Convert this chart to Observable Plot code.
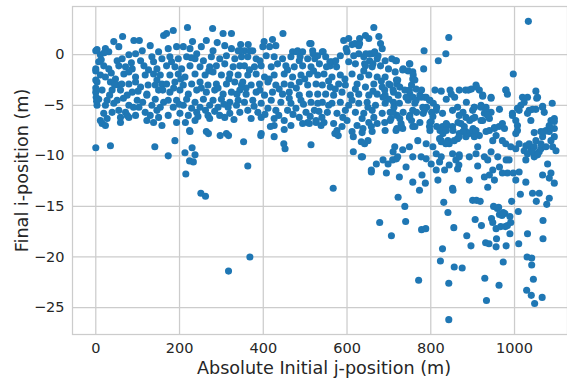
<!DOCTYPE html>
<html>
<head>
<meta charset="utf-8">
<script src="https://cdn.jsdelivr.net/npm/d3@7"></script>
<script src="https://cdn.jsdelivr.net/npm/@observablehq/plot@0.6"></script>
<style>
  html, body { margin: 0; padding: 0; background: #ffffff; overflow: hidden; }
  #chart { width: 567px; height: 380px; }
</style>
</head>
<body>
<div id="chart"></div>
<script>
// [absolute initial j-position (m), final i-position (m)] pairs
const band0to170 = [
  [64,1.8],[91,1.4],[104,1.4],[43,1.3],[55,0.8],[130,0.9],[111,0.4],[3,0.5],[23,0.6],[31,0.3],[11,0.0],[79,0.0],[95,0.1],[63,-0.4],[51,-0.6],[107,-0.6],[134,-0.2],[150,0.3],[162,1.9],
  [7,-0.7],[19,-1.1],[0,-1.4],[31,-1.4],[55,-1.1],[71,-1.2],[87,-1.4],[115,-1.1],[138,-0.7],[146,-1.4],[158,-0.4],
  [11,-2.0],[23,-2.2],[47,-2.4],[67,-1.9],[79,-1.7],[95,-2.2],[118,-2.0],[138,-1.9],[154,-2.0],
  [3,-2.7],[35,-2.7],[55,-3.0],[79,-2.9],[95,-2.7],[107,-3.2],[142,-3.0],[158,-2.9],
  [0,-3.7],[15,-3.5],[39,-3.5],[59,-3.5],[87,-3.7],[122,-3.9],[150,-3.5],
  [7,-4.4],[27,-4.5],[51,-4.5],[75,-4.0],[99,-4.5],[122,-4.0],[142,-4.4],[162,-4.7],
  [3,-5.0],[23,-5.0],[43,-4.8],[79,-5.0],[103,-5.2],[134,-5.0],[154,-5.2],
  [19,-5.8],[39,-5.7],[55,-5.5],[71,-5.7],[95,-6.0],[118,-5.7],[130,-6.0],[146,-5.5],
  [15,-6.8],[27,-6.3],[59,-6.7],[79,-6.2],[122,-6.5],[138,-6.7],[158,-7.0],
  [0,-9.2],[35,-9.0],[141,-9.1],[173,-10.0],[189,-8.5],[11,-6.5],[23,-7.0],[59,-6.2],[75,-6.0],
  [0,0.4],[0,-1.6],[0,-3.3],[1,-4.2],[2,-4.6],[0,-2.5],
  [13,-0.5],[37,-1.8],[62,-2.9],[85,-0.8],[101,-3.6],[126,-1.5],[146,-2.5],[33,-4.0],[66,-4.3],[112,-4.7],[150,-6.2],[90,-5.2],[45,-3.0],[125,-3.0],[20,0.2],[160,-3.5]
];
const band170to350 = [
  [185,2.4],[219,2.7],[279,2.6],[304,2.1],[324,2.1],[264,1.4],[169,2.1],
  [173,0.6],[193,0.8],[209,0.8],[225,0.6],[241,0.1],[280,0.4],[308,0.9],[324,0.6],[340,0.4],
  [177,-0.2],[197,-0.4],[217,-0.2],[237,-0.4],[257,-0.6],[276,-0.2],[296,-0.4],[312,-0.1],[332,-0.4],[348,-0.2],
  [169,-1.1],[189,-1.2],[205,-1.4],[225,-1.1],[249,-1.2],[272,-1.2],[288,-1.1],[308,-0.9],[328,-1.2],[344,-1.1],
  [177,-2.0],[197,-1.9],[213,-2.2],[237,-1.9],[261,-2.0],[280,-1.7],[300,-2.0],[320,-1.9],[340,-2.0],
  [169,-2.9],[189,-2.7],[209,-3.0],[229,-2.9],[249,-2.7],[268,-3.0],[288,-2.9],[312,-2.9],[332,-2.7],[348,-3.0],
  [177,-3.7],[201,-3.5],[221,-3.9],[241,-3.5],[264,-3.7],[284,-3.5],[304,-3.9],[324,-3.7],[344,-3.5],
  [173,-4.5],[193,-4.5],[217,-4.4],[237,-4.7],[257,-4.4],[280,-4.5],[300,-4.4],[320,-4.7],[340,-4.5],
  [185,-5.2],[209,-5.0],[229,-5.3],[249,-5.2],[272,-5.0],[292,-5.2],[316,-5.2],[336,-5.0],
  [173,-6.0],[201,-5.8],[221,-6.0],[241,-5.7],[268,-6.0],[296,-6.0],[320,-5.8],[344,-5.7],
  [193,-6.7],[237,-6.5],[272,-6.3],[308,-6.2],[225,-7.6],[264,-7.6],[312,-7.8],
  [269,-7.8],[297,-8.0],[317,-8.0],[213,-9.7],[230,-9.2],[237,-9.9],[224,-10.5],[233,-10.6],[215,-11.8],[224,-7.5],
  [181,-0.7],[203,-2.4],[228,-0.3],[252,-3.3],[270,-1.6],[292,-3.3],[318,-2.4],[337,-3.9],[199,-4.9],[244,-6.1],
  [284,-5.6],[330,-6.4],[214,-6.7],[186,-3.3],[262,-5.5],[306,-4.9],[231,1.3],[290,1.2],[252,0.8],[346,1.0]
];
const band350to540 = [
  [447,2.1],[422,1.5],[415,0.8],[430,0.9],[399,0.8],[375,0.4],[355,0.4],[514,1.1],[518,0.4],[470,0.3],[482,0.4],[494,0.3],
  [364,1.0],[345,0.4],[368,0.4],[480,0.3],[488,-0.2],[519,0.1],[523,-0.4],[511,1.1],
  [363,-0.2],[383,-0.4],[407,-0.1],[426,-0.2],[446,-0.4],[466,-0.2],[486,-0.6],[506,-0.4],[530,-0.1],
  [355,-1.1],[379,-1.2],[395,-1.1],[419,-1.2],[434,-0.9],[454,-1.1],[474,-1.2],[494,-1.1],[514,-1.2],[534,-0.9],
  [363,-2.0],[383,-1.9],[403,-2.2],[426,-2.0],[450,-1.9],[470,-2.2],[490,-2.0],[510,-1.9],[530,-2.0],
  [351,-2.7],[371,-3.0],[391,-2.9],[411,-2.7],[430,-3.0],[450,-2.9],[466,-3.0],[486,-2.7],[506,-3.0],[526,-2.9],
  [359,-3.9],[383,-3.7],[403,-4.0],[422,-3.7],[446,-3.9],[462,-3.7],[486,-4.0],[510,-3.9],[530,-3.9],
  [355,-4.7],[375,-4.5],[395,-4.8],[419,-4.5],[442,-4.7],[466,-4.8],[490,-4.5],[514,-4.7],[530,-4.8],
  [363,-5.5],[387,-5.7],[411,-5.3],[430,-5.5],[458,-5.5],[478,-5.3],[502,-5.7],[522,-5.5],
  [371,-6.3],[395,-6.2],[426,-6.3],[450,-6.5],[486,-6.2],[506,-6.7],[526,-6.5],
  [395,-7.8],[426,-7.0],[466,-7.0],[494,-6.8],[510,-6.8],[526,-6.7],[538,-7.0],
  [353,-8.6],[394,-8.0],[426,-8.1],[449,-8.8],[452,-9.3],[514,-8.9],[363,-11.0],
  [367,-1.5],[392,-0.6],[414,-2.4],[438,-3.4],[458,-1.5],[479,-3.3],[499,-2.4],[520,-1.6],[378,-5.1],[404,-5.9],
  [437,-6.0],[471,-5.9],[496,-4.9],[533,-5.6],[359,-3.3],[392,-3.5],[462,-4.3],[512,-6.1],[417,-7.1],[450,-7.4],[540,-6.2],[402,1.3]
];
const band540to720 = [
  [664,2.7],[644,1.9],[652,1.6],[592,1.4],[604,1.6],[612,1.0],[628,0.9],[680,1.1],[684,0.6],[543,0.3],[619,1.1],[630,1.1],
  [541,0.3],[549,-0.2],[564,-0.7],[560,-1.1],[584,-0.1],[600,0.3],[616,-0.1],[628,0.1],[640,-0.2],[660,0.1],[672,-0.4],[691,-0.6],[707,-0.4],
  [559,-0.7],[551,-1.2],[575,-1.2],[654,0.1],[666,0.3],[674,-0.1],[645,0.1],[654,-0.6],[642,-0.9],[662,-0.9],
  [620,-0.9],[644,-1.1],[660,-1.2],[680,-1.1],[699,-1.4],[715,-1.7],
  [545,-1.9],[564,-2.2],[584,-2.0],[612,-1.9],[632,-2.2],[652,-2.0],[672,-2.2],[691,-2.2],
  [541,-3.0],[560,-3.2],[580,-2.9],[596,-3.0],[624,-2.9],[644,-3.2],[664,-2.9],[684,-3.2],[703,-3.0],[719,-2.9],
  [549,-3.9],[568,-4.0],[588,-3.7],[608,-4.0],[628,-3.9],[652,-4.0],[672,-3.9],[691,-4.0],[711,-3.7],
  [541,-4.7],[564,-4.8],[584,-4.7],[604,-5.0],[628,-4.8],[648,-4.7],[668,-5.0],[691,-4.8],[711,-4.7],
  [553,-5.7],[576,-5.8],[596,-5.5],[620,-5.7],[640,-5.8],[660,-5.5],[684,-5.8],[703,-5.7],[719,-6.0],
  [545,-6.7],[568,-6.8],[600,-6.5],[624,-7.0],[652,-6.7],[672,-6.8],[703,-6.5],
  [576,-7.5],[612,-7.6],[660,-7.6],[691,-7.5],[719,-7.3],
  [700,-2.9],[710,-3.5],[690,-3.5],[686,-4.2],[705,-6.3],[710,-5.7],[717,-7.5],
  [571,-7.8],[579,-8.0],[615,-8.1],[634,-8.6],[642,-8.8],[650,-8.5],[638,-7.3],[658,-7.1],
  [615,-9.6],[637,-10.1],[658,-11.4],[670,-10.8],[658,-11.6],[634,-10.1],[698,-10.8],[686,-10.4],[709,-10.4],[694,-11.7],[714,-9.1],[710,-9.6],[718,-10.3],
  [556,-2.6],[573,-0.6],[595,-2.4],[620,-3.4],[640,-1.6],[662,-3.6],[682,-2.6],[700,-4.4],[556,-5.0],[590,-6.2],[612,-4.5],
  [636,-6.3],[664,-6.2],[690,-6.7],[572,-3.4],[604,-0.7],[650,-5.2],[712,-5.2],[588,-7.1],[636,-7.7],[676,1.8],[630,1.6],[598,0.6]
];
const band720to900 = [
  [843,1.7],[784,0.4],[836,0.1],[818,-0.6],[718,-0.6],[734,-1.4],[750,-0.9],[746,-1.6],[716,-0.6],[749,-0.9],[733,-1.5],[757,-1.7],[783,-1.4],[721,-2.5],[757,-2.4],
  [758,-2.0],[762,-2.5],[754,-3.0],[718,-2.5],[726,-3.2],[738,-3.5],[722,-4.0],
  [750,-3.9],[758,-4.2],[746,-4.5],[762,-4.8],[774,-4.0],[786,-4.2],[798,-4.5],[806,-4.8],[790,-5.2],[814,-5.2],[802,-5.7],[782,-5.8],[766,-5.7],[750,-6.0],[734,-5.7],[726,-6.3],[754,-6.5],[774,-6.7],
  [778,-3.5],[810,-3.5],[825,-3.6],[846,-3.5],[868,-3.5],[883,-3.5],[890,-3.5],[849,-3.9],[897,-3.4],[837,-4.4],[857,-4.2],[885,-4.7],[877,-5.7],
  [813,-5.5],[828,-5.8],[852,-5.5],[864,-5.2],[868,-6.0],[884,-6.2],[785,-5.5],[781,-5.2],[765,-4.5],[757,-5.5],[749,-6.2],[741,-4.2],[749,-3.5],[765,-3.4],[789,-4.2],[797,-4.5],[777,-4.2],[725,-4.8],
  [757,-7.1],[729,-6.8],[733,-7.3],[797,-7.1],[801,-6.6],[805,-6.1],[852,-7.1],[828,-7.1],[840,-7.0],[868,-7.8],[884,-7.6],[892,-7.8],[880,-7.1],[872,-6.8],
  [730,-7.1],[762,-7.1],[798,-6.7],[814,-7.1],[837,-6.8],[865,-6.7],[893,-6.5],[853,-7.5],[822,-7.5],[877,-7.6],[798,-7.5],
  [825,-8.5],[829,-7.8],[837,-7.5],[841,-8.5],[844,-8.8],[856,-8.5],[864,-8.3],[868,-8.1],[884,-8.1],[821,-8.3],[825,-8.6],[836,-8.8],
  [789,-8.8],[805,-9.1],[813,-9.8],[789,-10.3],[801,-10.8],[757,-10.1],[749,-9.1],[769,-8.5],[725,-12.1],[813,-11.4],[833,-11.4],
  [777,-10.1],[779,-11.9],[787,-12.7],[757,-12.6],[741,-11.1],[721,-10.1],[733,-9.4],
  [868,-9.9],[860,-10.4],[867,-10.9],[864,-11.3],[844,-10.9],[821,-10.6],[825,-10.1],[817,-12.4],[852,-9.8],[892,-12.4],[852,-13.2],[868,-10.1],[892,-10.1]
];
const band900to1100 = [
  [1033,3.3],[997,-1.9],[908,-3.0],[916,-3.5],[979,-3.5],[983,-3.9],[980,-3.5],[909,-3.2],
  [924,-4.0],[944,-4.2],[1019,-4.2],[1031,-4.2],[1051,-3.6],[1055,-4.2],[1053,-4.3],[1023,-4.7],[924,-4.1],[944,-4.3],
  [904,-5.2],[920,-5.0],[932,-5.2],[944,-5.7],[928,-5.8],[940,-6.3],[964,-5.4],[1015,-5.0],[1007,-5.3],[995,-5.8],[1035,-5.5],[1031,-5.8],[1051,-5.4],[1067,-5.2],[1071,-5.7],
  [900,-5.5],[904,-5.2],[920,-5.2],[932,-5.5],[936,-6.0],[924,-6.5],[900,-6.3],[905,-6.2],
  [1090,-4.8],[1067,-5.1],[1043,-5.4],[1011,-5.5],[995,-6.0],[1003,-6.5],[1007,-7.0],[1003,-7.8],[1039,-6.5],
  [1087,-6.5],[1095,-6.3],[1083,-7.1],[1095,-8.1],[1095,-6.6],[1083,-7.0],[1075,-7.5],[1063,-7.6],[1047,-7.7],[1007,-7.5],
  [952,-7.2],[976,-7.3],[920,-6.5],[904,-7.5],[932,-7.6],[901,-7.3],[900,-7.5],[908,-7.5],[940,-7.5],[963,-7.1],[971,-6.8],[952,-7.3],
  [956,-8.0],[971,-8.5],[948,-8.5],[916,-8.0],[904,-8.1],[1067,-8.1],[1083,-7.6],[1095,-7.3],[1071,-7.6],
  [979,-8.8],[991,-9.1],[1003,-9.3],[1011,-8.8],[1027,-9.0],[1039,-9.3],[1051,-8.5],[1023,-9.5],[1031,-9.8],[1047,-10.1],[1059,-9.6],[1063,-9.3],[1075,-9.1],[1087,-8.5],[1091,-9.1],[1099,-9.5],
  [1035,-8.8],[1047,-9.1],[1043,-9.6],[1055,-9.9],[1063,-8.8],
  [912,-9.1],[928,-10.1],[944,-9.6],[960,-10.1],[964,-11.1],[948,-11.4],[908,-9.8],[983,-11.7],[952,-12.4],[936,-13.1],
  [1079,-10.8],[1087,-11.7],[1095,-12.7],[1067,-11.9],[1083,-12.2],[1027,-10.4],[1011,-11.6],[1027,-12.6],[1003,-12.4],[997,-11.7],
  [980,-10.4],[987,-10.4],[971,-11.7],[936,-10.4],[940,-11.9],[928,-12.1],[912,-11.0]
];
const scatteredLow = [
  [251,-13.7],[262,-14.0],[317,-21.4],[368,-20.0],[567,-13.2],[678,-16.6],
  [722,-14.1],[738,-15.0],[706,-17.9],[740,-16.5],[778,-17.3],[788,-17.2],[771,-22.3],[773,-13.4],
  [831,-14.6],[841,-15.6],[855,-17.1],[828,-19.2],[823,-20.4],[843,-22.6],[843,-26.2],[856,-21.0],[875,-21.1],[853,-13.4],
  [886,-17.9],[896,-18.9],[906,-16.3],[900,-14.4],[909,-14.4],[918,-14.5],[921,-16.9],[929,-22.1],[933,-24.3],[931,-18.6],[939,-18.7],
  [945,-16.2],[948,-16.6],[950,-15.0],[959,-15.2],[962,-15.1],[964,-15.8],[970,-15.9],[977,-15.7],[973,-15.6],
  [956,-17.2],[967,-17.0],[978,-17.0],[983,-16.9],[957,-18.2],[956,-19.0],[980,-18.9],[989,-17.7],[991,-16.6],[989,-16.0],
  [973,-20.5],[963,-22.8],[993,-14.5],[1009,-15.5],[1010,-18.7],[1014,-13.8],[1031,-17.7],[1030,-20.0],[1041,-20.1],[1041,-20.8],
  [1045,-22.2],[1029,-23.3],[1040,-23.8],[1048,-24.6],[1066,-24.0],[1068,-18.2],[1068,-16.4],
  [1043,-13.7],[1059,-13.7],[1052,-14.5],[1077,-14.8],[1083,-14.2]
];
const xTicks = [0, 200, 400, 600, 800, 1000];
const yTicks = [0, -5, -10, -15, -20, -25];
const xLabel = "Absolute Initial j-position (m)";
const yLabel = "Final i-position (m)";

const points = [band0to170, band170to350, band350to540, band540to720, band720to900, band900to1100, scatteredLow]
  .flat().map(([j, i]) => ({j, i}));

const grid = "#cccccc";
const ink = "#262626";

const chart = Plot.plot({
  width: 567,
  height: 380,
  marginLeft: 72,
  marginRight: 0,
  marginTop: 6,
  marginBottom: 46,
  style: {fontFamily: "DejaVu Sans", fontSize: "14.5px", color: ink, background: "#ffffff", overflow: "visible"},
  x: {domain: [-55.6, 1126.5]},
  y: {domain: [-27.67, 4.77]},
  marks: [
    Plot.gridX(xTicks, {stroke: grid, strokeOpacity: 1, strokeWidth: 1.25}),
    Plot.gridY(yTicks, {stroke: grid, strokeOpacity: 1, strokeWidth: 1.25}),
    Plot.frame({stroke: grid, strokeWidth: 1.25}),
    Plot.dot(points, {x: "j", y: "i", r: 3.55, fill: "#1f77b4", stroke: null}),
    Plot.axisX(xTicks, {tickSize: 0, tickPadding: 8.7, fontSize: 14.5, label: null, fill: ink, tickFormat: "d"}),
    Plot.axisY(yTicks, {tickSize: 0, tickPadding: 8, fontSize: 14.5, label: null, fill: ink, tickFormat: "d"}),
    Plot.text([xLabel], {frameAnchor: "bottom", lineAnchor: "bottom", textAnchor: "middle", dy: 39, dx: 4, fontSize: 17.6, fill: ink}),
    Plot.text([yLabel], {frameAnchor: "left", lineAnchor: "middle", textAnchor: "middle", rotate: -90, dx: -50, fontSize: 17.6, fill: ink})
  ]
});
document.getElementById("chart").appendChild(chart);
</script>
</body>
</html>
